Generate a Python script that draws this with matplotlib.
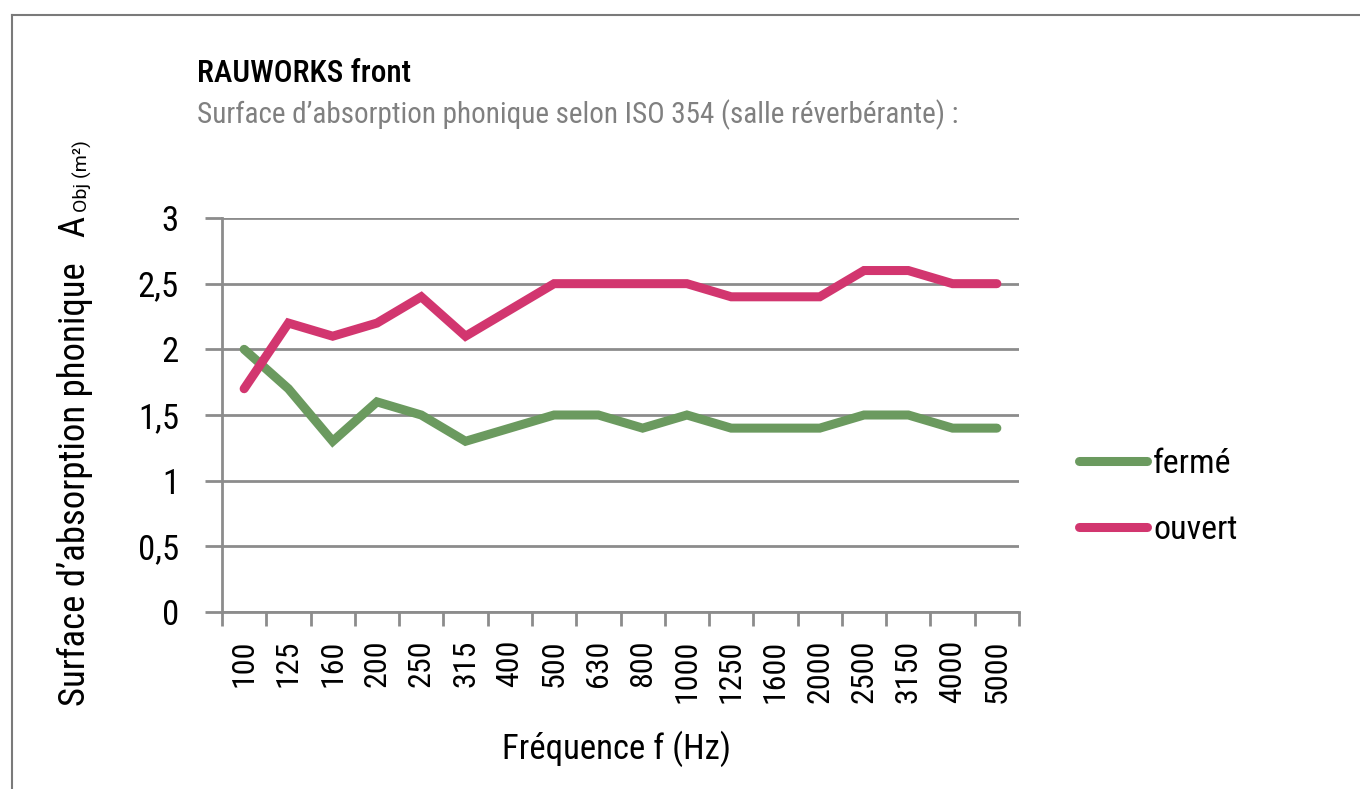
import matplotlib.pyplot as plt
from matplotlib import font_manager
from matplotlib.lines import Line2D
import numpy as np

# pick a narrow-ish family that is installed
installed = {f.name for f in font_manager.fontManager.ttflist}
for fam in ['Roboto Condensed', 'Liberation Sans Narrow', 'Roboto', 'Liberation Sans']:
    if fam in installed:
        break
plt.rcParams['font.family'] = [fam, 'DejaVu Sans']

# Data
freqs = ['100', '125', '160', '200', '250', '315', '400', '500', '630', '800',
         '1000', '1250', '1600', '2000', '2500', '3150', '4000', '5000']
ferme = [2.0, 1.7, 1.3, 1.6, 1.5, 1.3, 1.4, 1.5, 1.5, 1.4,
         1.5, 1.4, 1.4, 1.4, 1.5, 1.5, 1.4, 1.4]
ouvert = [1.7, 2.2, 2.1, 2.2, 2.4, 2.1, 2.3, 2.5, 2.5, 2.5,
          2.5, 2.4, 2.4, 2.4, 2.6, 2.6, 2.5, 2.5]
yticks = [0, 0.5, 1, 1.5, 2, 2.5, 3]
ylabels = ['0', '0,5', '1', '1,5', '2', '2,5', '3']

W, H = 1360, 789
fig = plt.figure(figsize=(W / 100, H / 100), dpi=100)
ax = fig.add_axes([222 / W, 1 - 612 / H, (1019 - 222) / W, (612 - 218) / H])

grey = '#8c8c8c'
x = np.arange(len(freqs))
ax.plot(x, ferme, color='#6b9a5f', lw=6.5, solid_capstyle='round',
        solid_joinstyle='miter', label='fermé', zorder=3)
ax.plot(x, ouvert, color='#d2366f', lw=6.5, solid_capstyle='round',
        solid_joinstyle='miter', label='ouvert', zorder=3)

ax.set_xlim(-0.5, len(freqs) - 0.5)
ax.set_ylim(0, 3)
ax.set_yticks(yticks)
ax.set_yticklabels(ylabels, fontsize=25)
ax.yaxis.grid(True, color=grey, lw=2)
ax.set_axisbelow(True)

# category ticks between bands, labels centered
ax.set_xticks(np.arange(len(freqs) + 1) - 0.5)
ax.set_xticklabels([])
ax.set_xticks(x, minor=True)
ax.set_xticklabels(freqs, minor=True, rotation=90, fontsize=23)
ax.tick_params(axis='x', which='major', direction='out', length=10, width=2, color=grey)
ax.tick_params(axis='x', which='minor', length=0, pad=20)
ax.tick_params(axis='y', direction='out', length=12, width=2, color=grey, pad=19)

for s in ['top', 'right']:
    ax.spines[s].set_visible(False)
for s in ['left', 'bottom']:
    ax.spines[s].set_color(grey)
    ax.spines[s].set_linewidth(2)

fig.text(617 / W, 1 - 749 / H, 'Fréquence f (Hz)', fontsize=25, ha='center', va='center')

# y label, with the small "Obj (m²)" part placed right after the main text
ylab = fig.text(75 / W, 1 - 706 / H, 'Surface d’absorption phonique   A', rotation=90,
                ha='center', va='bottom', fontsize=26.5)
fig.canvas.draw()
bb = ylab.get_window_extent()
fig.text(82 / W, (bb.y1 + 4) / H, 'Obj (m²)', rotation=90,
         ha='center', va='bottom', fontsize=14, family=['Roboto', 'DejaVu Sans'])

# titles
fig.text(197 / W, 1 - 73 / H, 'RAUWORKS front', fontsize=22.5, va='center',
         color='black', weight='medium')
fig.text(197 / W, 1 - 115 / H,
         'Surface d’absorption phonique selon ISO 354 (salle réverbérante) :',
         fontsize=21, va='center', color='#808080')

# legend
ax.legend(loc='center left', bbox_to_anchor=(1079 / W, 1 - 497 / H),
          bbox_transform=fig.transFigure, frameon=False, fontsize=24.5,
          borderpad=0, borderaxespad=0,
          handlelength=2.0, handletextpad=0.18, labelspacing=1.0)

# outer frame
fig.add_artist(Line2D([12 / W, 1], [1 - 15 / H, 1 - 15 / H], color='#7a7a7a', lw=1.5))
fig.add_artist(Line2D([12 / W, 12 / W], [0, 1 - 15 / H], color='#7a7a7a', lw=1.5))

plt.savefig('out.png', dpi=100)
